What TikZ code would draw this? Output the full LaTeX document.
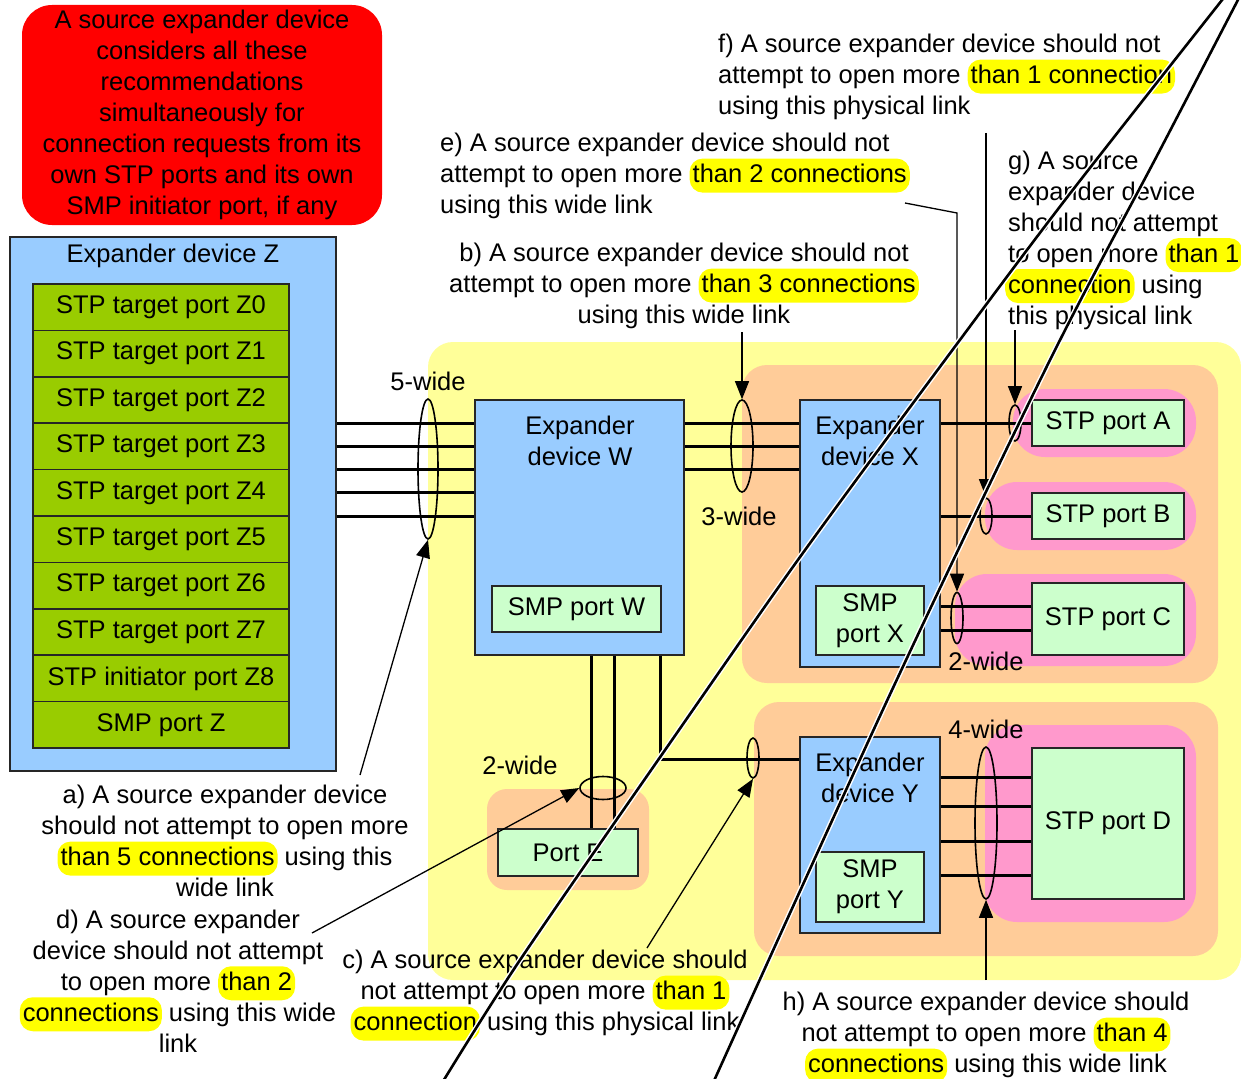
\documentclass[tikz,border=0pt]{standalone}
\usepackage{fontspec}
\setmainfont{Liberation Sans}
\usetikzlibrary{arrows.meta,shapes.geometric}
\definecolor{alertred}{HTML}{FF0000}
\definecolor{devblue}{HTML}{99CCFF}
\definecolor{zgreen}{HTML}{99CC00}
\definecolor{ltgreen}{HTML}{CCFFCC}
\definecolor{paleyellow}{HTML}{FFFF99}
\definecolor{peach}{HTML}{FFCC99}
\definecolor{rosepink}{HTML}{FF99CC}
\definecolor{hlyellow}{HTML}{FFFF00}
\newcommand\hlt[1]{\smash{\tikz[baseline=(hlb.base)]\node[fill=hlyellow,rounded corners=13pt,inner xsep=3pt,inner ysep=0pt,text height=24pt,text depth=10pt](hlb){#1};}}
\begin{document}
\begin{tikzpicture}[x=1pt,y=-1pt,font=\fontsize{25.5}{31}\selectfont,
  region/.style={draw=none,rounded corners=25pt,inner sep=0},
  devbox/.style={draw=black!85,fill=devblue,line width=1.5pt,inner sep=0},
  portbox/.style={draw=black!85,fill=ltgreen,line width=1.5pt,inner sep=0,align=center},
  zport/.style={draw=black!85,fill=zgreen,line width=1.5pt,inner sep=0,minimum width=256pt,minimum height=46.4pt},
  link/.style={line width=3pt},
  bundle/.style={draw,ellipse,line width=1.6pt,inner sep=0},
  callout/.style={line width=1.3pt,-{Triangle[length=18pt,width=14pt]}},
  txt/.style={inner sep=0,align=center},
  ltxt/.style={inner sep=0,align=left,anchor=west},
  strikew/.style={white,line width=5.5pt},
  strikeb/.style={black,line width=2.6pt}]
\useasboundingbox (0,0) rectangle (1241,1078);

% ---------- red note ----------
\node[fill=alertred,rounded corners=30pt,minimum width=360pt,minimum height=220pt,txt] (note) at (202,115)
 {A source expander device\\considers all these\\recommendations\\simultaneously for\\connection requests from its\\own STP ports and its own\\SMP initiator port, if any};

% ---------- regions ----------
\node[region,fill=paleyellow,minimum width=813pt,minimum height=638pt] (yreg) at (834.5,661) {};
\node[region,fill=peach,minimum width=476pt,minimum height=318pt] (oX) at (980,524) {};
\node[region,fill=peach,minimum width=464pt,minimum height=254pt] (oY) at (986,829) {};
\node[region,fill=peach,rounded corners=20pt,minimum width=162pt,minimum height=101pt] (oE) at (568,839.5) {};
\node[region,fill=rosepink,rounded corners=32pt,minimum width=183pt,minimum height=68pt] (pA) at (1104.5,423) {};
\node[region,fill=rosepink,rounded corners=32pt,minimum width=211pt,minimum height=68pt] (pB) at (1090.5,516) {};
\node[region,fill=rosepink,rounded corners=32pt,minimum width=241pt,minimum height=92pt] (pC) at (1075.5,620) {};
\node[region,fill=rosepink,rounded corners=32pt,minimum width=211pt,minimum height=197pt] (pD) at (1090.5,823.5) {};

% ---------- expander Z ----------
\node[devbox,minimum width=326pt,minimum height=534pt] (Z) at (173,504) {};
\node[txt] (Zt) at (173,256) {Expander device Z};
\foreach \i/\t in {0/STP target port Z0,1/STP target port Z1,2/STP target port Z2,3/STP target port Z3,4/STP target port Z4,5/STP target port Z5,6/STP target port Z6,7/STP target port Z7,8/STP initiator port Z8,9/SMP port Z}
  \node[zport] (Zp\i) at (161,{284+46.4*(\i+0.5)}) {\t};

% ---------- expanders W, X, Y ----------
\node[devbox,minimum width=209pt,minimum height=255pt] (W) at (579.5,527.5) {};
\node[txt] (Wt) at (580,441) {Expander\\device W};
\node[portbox,minimum width=169pt,minimum height=46pt] (SW) at (576.5,609) {SMP port W};

\node[devbox,minimum width=140pt,minimum height=267pt] (X) at (870,533.5) {};
\node[txt] (Xt) at (870,441) {Expander\\device X};
\node[portbox,minimum width=108pt,minimum height=69pt] (SX) at (870,620.5) {SMP\\port X};

\node[devbox,minimum width=140pt,minimum height=196pt] (Y) at (870,835) {};
\node[txt] (Yt) at (870,778) {Expander\\device Y};
\node[portbox,minimum width=108pt,minimum height=70pt] (SY) at (870,887) {SMP\\port Y};

% ---------- end ports ----------
\node[portbox,minimum width=152pt,minimum height=46pt] (A) at (1108,423) {STP port A};
\node[portbox,minimum width=152pt,minimum height=46pt] (B) at (1108,516) {STP port B};
\node[portbox,minimum width=152pt,minimum height=72pt] (C) at (1108,619) {STP port C};
\node[portbox,minimum width=152pt,minimum height=151pt] (D) at (1108,823.5) {STP port D};
\node[portbox,minimum width=140pt,minimum height=47pt] (E) at (568,852.5) {Port E};

% ---------- links ----------
\foreach \yy in {423,446,469,492,516}
  \draw[link] (Z.east |- 0,\yy) -- (W.west |- 0,\yy);
\foreach \yy in {423,446,469}
  \draw[link] (W.east |- 0,\yy) -- (X.west |- 0,\yy);
\draw[link] (X.east |- A.west) -- (A.west);
\draw[link] (X.east |- B.west) -- (B.west);
\foreach \yy in {606,630}
  \draw[link] (X.east |- 0,\yy) -- (C.west |- 0,\yy);
\foreach \yy in {777,806,841,875}
  \draw[link] (Y.east |- 0,\yy) -- (D.west |- 0,\yy);
\foreach \xx in {591,614}
  \draw[link] (W.south -| \xx,0) -- (E.north -| \xx,0);
\draw[link] (W.south -| 660,0) |- (Y.west |- 0,759);

% ---------- bundles ----------
\node[bundle,minimum width=20pt,minimum height=140pt] (e5) at (428,469) {};
\node[bundle,minimum width=22pt,minimum height=92pt] (e3) at (742,446) {};
\node[bundle,minimum width=12pt,minimum height=36pt] (eA) at (1015,423) {};
\node[bundle,minimum width=12pt,minimum height=36pt] (eB) at (986,516) {};
\node[bundle,minimum width=12pt,minimum height=51pt] (eC) at (957,618) {};
\node[bundle,minimum width=22pt,minimum height=152pt] (eD) at (986,823) {};
\node[bundle,minimum width=12pt,minimum height=40pt] (eY) at (753,758) {};
\node[bundle,minimum width=46pt,minimum height=23pt] (eE) at (603,788) {};

\node[txt] (l5) at (428,381) {5-wide};
\node[txt] (l3) at (739,516) {3-wide};
\node[txt] (l2c) at (986,661) {2-wide};
\node[txt] (l4) at (986,729) {4-wide};
\node[txt] (l2e) at (520,765) {2-wide};

% ---------- annotations ----------
\node[txt] (ta) at (225,841)
 {a) A source expander device\\should not attempt to open more\\\hlt{than 5 connections} using this\\wide link};
\node[txt] (td) at (178,981)
 {d) A source expander\\device should not attempt\\to open more \hlt{than 2}\\\hlt{connections} using this wide\\link};
\node[txt] (tc) at (545,993)
 {c) A source expander device should\\not attempt to open more \hlt{than 1}\\\hlt{connection} using this physical link};
\node[txt] (th) at (986,1035)
 {h) A source expander device should\\not attempt to open more \hlt{than 4}\\\hlt{connections} using this wide link};
\node[txt] (tb) at (684,286)
 {b) A source expander device should not\\attempt to open more \hlt{than 3 connections}\\using this wide link};
\node[ltxt] (te) at (440,176)
 {e) A source expander device should not\\attempt to open more \hlt{than 2 connections}\\using this wide link};
\node[ltxt] (tf) at (718,77)
 {f) A source expander device should not\\attempt to open more \hlt{than 1 connection}\\using this physical link};
\node[ltxt] (tg) at (1008,240)
 {g) A source\\expander device\\should not attempt\\to open more \hlt{than 1}\\\hspace{-3pt}\hlt{connection} using\\this physical link};

% ---------- callout arrows ----------
\coordinate (ca) at (360,775);
\coordinate (cb) at (742,332);
\coordinate (cc) at (647,948);
\coordinate (cd) at (312,933);
\coordinate (ce1) at (905,203);
\coordinate (ce2) at (957,213);
\coordinate (cf) at (986,133);
\coordinate (cg) at (1015,330);
\coordinate (ch) at (986,980);
\draw[callout] (ca) -- (e5.south);
\draw[callout] (cb) -- (e3.north);
\draw[callout] (cc) -- (eY.south);
\draw[callout] (cd) -- (eE.west);
\draw[callout] (ce1) -- (ce2) -- (eC.north);
\draw[callout] (cf) -- (eB.north);
\draw[callout] (cg) -- (eA.north);
\draw[callout] (ch) -- (eD.south);

% ---------- strike-through lines ----------
\foreach \s in {strikew,strikeb} {
  \draw[\s] plot[smooth] coordinates {(1226,-5) (1065,200) (945,360) (800,557) (672,740) (520,960) (442,1083)};
  \draw[\s] plot[smooth] coordinates {(1241,-6) (1160,150) (1050,360) (892,690) (713,1083)};
}
\end{tikzpicture}
\end{document}
